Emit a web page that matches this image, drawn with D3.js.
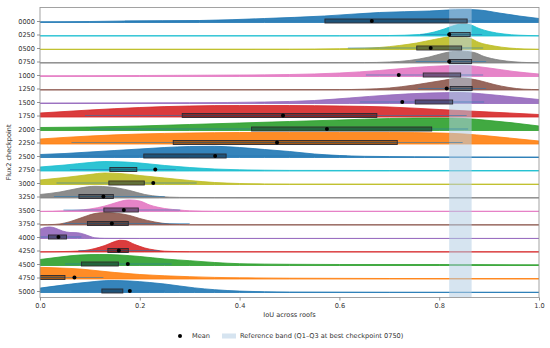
<!DOCTYPE html>
<html>
<head>
<meta charset="utf-8">
<script src="https://cdn.jsdelivr.net/npm/d3@7"></script>
<style>
  body { margin: 0; background: #fff; }
  text { font-family: "DejaVu Sans", sans-serif; }
</style>
</head>
<body>
<script>
// checkpoints, top to bottom
const checkpoints = ["0000", "0250", "0500", "0750", "1000", "1250", "1500", "1750", "2000", "2250",
                     "2500", "2750", "3000", "3250", "3500", "3750", "4000", "4250", "4500", "4750", "5000"];

// box stats of IoU per checkpoint
const whiskerLow  = [0.17, 0.762, 0.617, 0.753, 0.653, 0.758, 0.641, 0.09, 0.10, 0.063,
                     0.02, 0.06, 0.033, 0.028, 0.047, 0.047, 0.0, 0.077, 0.05, 0.0, 0.063];
const q1          = [0.571, 0.82, 0.755, 0.82, 0.768, 0.822, 0.752, 0.285, 0.424, 0.267,
                     0.208, 0.14, 0.138, 0.078, 0.128, 0.095, 0.017, 0.136, 0.083, 0.0, 0.124];
const q3          = [0.856, 0.862, 0.845, 0.865, 0.843, 0.866, 0.827, 0.675, 0.785, 0.716,
                     0.373, 0.194, 0.209, 0.147, 0.197, 0.177, 0.053, 0.177, 0.157, 0.05, 0.166];
const whiskerHigh = [1.0, 0.886, 0.888, 0.894, 0.888, 0.894, 0.89, 0.855, 0.858, 0.847,
                     0.615, 0.272, 0.314, 0.25, 0.281, 0.30, 0.083, 0.24, 0.264, 0.127, 0.25];
const means       = [0.665, 0.82, 0.783, 0.82, 0.719, 0.815, 0.726, 0.487, 0.575, 0.475,
                     0.351, 0.231, 0.227, 0.127, 0.168, 0.144, 0.037, 0.158, 0.176, 0.069, 0.18];

// KDE curves: [IoU, relative density]
const densityCurves = [
  [[0,0.8],[0.1,1],[0.17,1.5],[0.32,2],[0.45,4],[0.57,6.5],[0.68,10],[0.78,11.5],[0.85,13],[0.88,12.5],[0.92,9.5],[0.96,6.5],[1,4]],
  [[0,0.3],[0.6,0.3],[0.7,0.5],[0.76,1.5],[0.79,4],[0.81,7],[0.83,10.5],[0.845,12],[0.86,11.5],[0.88,7.5],[0.9,4.5],[0.93,2],[0.96,0.8],[1,0.3]],
  [[0,0.3],[0.5,0.4],[0.6,0.8],[0.65,1.3],[0.68,2],[0.72,4],[0.755,6.5],[0.79,10],[0.83,13],[0.86,11.5],[0.88,7],[0.91,3.5],[0.94,1.5],[0.97,0.6],[1,0.3]],
  [[0,0.3],[0.65,0.4],[0.7,1],[0.74,2.5],[0.78,6],[0.81,10],[0.84,12],[0.87,10.5],[0.89,6.5],[0.92,3],[0.95,1.2],[0.98,0.4],[1,0.3]],
  [[0,0.8],[0.2,1],[0.4,1.5],[0.5,2],[0.6,3.5],[0.68,6],[0.75,9],[0.8,10.5],[0.85,11],[0.9,8.5],[0.95,5],[1,2.5]],
  [[0,0.3],[0.6,0.4],[0.65,0.8],[0.7,2],[0.75,5],[0.8,9],[0.845,12],[0.88,9.5],[0.91,5.5],[0.94,2.5],[0.97,0.8],[1,0.4]],
  [[0,0.5],[0.3,0.8],[0.45,1.5],[0.55,3],[0.62,5.5],[0.7,8.5],[0.78,10.5],[0.84,11],[0.9,9],[0.95,6.5],[1,4]],
  [[0,4],[0.1,7],[0.2,9.5],[0.3,11],[0.4,11.5],[0.5,11.5],[0.6,11],[0.7,10],[0.8,7.5],[0.9,5],[1,2.5]],
  [[0,3],[0.1,3.5],[0.2,4.5],[0.3,6],[0.4,7.5],[0.5,9],[0.6,10.5],[0.7,12],[0.8,12.5],[0.85,12],[0.9,10],[0.95,7.5],[1,4.5]],
  [[0,5],[0.1,8],[0.2,10],[0.3,11],[0.4,11.5],[0.5,11.5],[0.6,11.5],[0.7,11.5],[0.8,11],[0.85,10],[0.9,8],[0.95,5.5],[1,3]],
  [[0,3],[0.05,4],[0.1,5.5],[0.15,7],[0.2,8.5],[0.25,10],[0.3,11],[0.35,11.2],[0.4,10],[0.45,8],[0.5,6],[0.55,3.5],[0.6,2],[0.65,1.2],[0.75,0.8],[0.9,0.6],[1,0.5]],
  [[0,4],[0.05,6],[0.1,8.5],[0.13,9.5],[0.17,9],[0.2,8],[0.25,5.5],[0.3,3.5],[0.35,2],[0.4,1.2],[0.45,0.8],[0.5,0.6],[0.7,0.5],[1,0.5]],
  [[0,4.5],[0.05,7],[0.1,10],[0.13,11.5],[0.16,11],[0.2,9],[0.25,6.5],[0.3,4],[0.35,2],[0.4,1],[0.45,0.6],[0.5,0.5],[1,0.4]],
  [[0,3.5],[0.04,6],[0.08,10],[0.11,11.7],[0.14,11],[0.18,7.5],[0.21,3.5],[0.24,1.5],[0.28,0.6],[0.35,0.4],[1,0.3]],
  [[0,0.2],[0.05,0.7],[0.1,2.5],[0.13,5.5],[0.15,8.5],[0.17,11.2],[0.18,11.6],[0.2,10.5],[0.22,6.5],[0.25,3],[0.28,1.5],[0.3,0.7],[0.35,0.3],[1,0.3]],
  [[0,0.2],[0.03,0.6],[0.05,2],[0.07,5],[0.09,8.5],[0.11,11.5],[0.13,12.4],[0.15,12],[0.18,9.5],[0.2,6.5],[0.23,3],[0.26,1],[0.3,0.3],[1,0.2]],
  [[0,9.3],[0.01,11],[0.02,11.5],[0.03,10.5],[0.045,7.5],[0.06,6],[0.075,5.8],[0.09,4],[0.1,2.2],[0.11,0.7],[0.13,0.2],[0.2,0.1],[1,0.1]],
  [[0,0.2],[0.06,0.6],[0.09,1.5],[0.11,3.5],[0.13,6.5],[0.15,10.5],[0.16,11.7],[0.17,11.5],[0.19,7.5],[0.21,4],[0.23,2],[0.25,0.8],[0.3,0.3],[1,0.2]],
  [[0,6],[0.04,8.5],[0.08,10.5],[0.12,11],[0.16,10.5],[0.2,9],[0.25,6.5],[0.3,4.8],[0.35,3],[0.4,1.8],[0.5,1.2],[0.6,1],[0.8,1],[1,0.7]],
  [[0,11.7],[0.04,11],[0.08,10],[0.12,8],[0.15,6.5],[0.2,4.5],[0.25,3.2],[0.3,2.3],[0.35,1.6],[0.4,1.2],[0.5,0.8],[0.7,0.5],[1,0.4]],
  [[0,4.4],[0.05,7.7],[0.1,10.5],[0.14,12],[0.18,11.5],[0.22,10],[0.25,8.5],[0.28,6.5],[0.31,4.6],[0.35,2.8],[0.4,1.4],[0.45,0.8],[0.5,0.5],[0.7,0.3],[1,0.3]]
];

const referenceBand = [0.82, 0.865];
const xTicks = [0, 0.2, 0.4, 0.6, 0.8, 1.0];

const width = 550, height = 348;
const plot = { left: 40, right: 539, top: 7.5, bottom: 297.5 };

const svg = d3.select("body")
              .append("svg")
              .attr("width", width)
              .attr("height", height);

const x = d3.scaleLinear().domain([0, 1]).range([plot.left, plot.right]);
const y = d3.scalePoint().domain(checkpoints).range([21, 291]);
const dens = d3.scaleLinear().domain([0, 12]).range([0, 12]);

// tab10 walked backwards: blue, cyan, olive, grey, pink, ...
const colorOf = (i) => d3.schemeCategory10[(10 - i % 10) % 10];

svg.append("defs").append("clipPath").attr("id", "clip")
   .append("rect")
   .attr("x", plot.left).attr("y", plot.top)
   .attr("width", plot.right - plot.left).attr("height", plot.bottom - plot.top);

const g = svg.append("g").attr("clip-path", "url(#clip)");

// ridges
checkpoints.forEach((c, i) => {
  const base = y(c) + 1.5;
  const area = d3.area()
                 .x(d => x(d[0]))
                 .y0(base)
                 .y1(d => base - dens(d[1]))
                 .curve(d3.curveMonotoneX);
  g.append("path")
   .datum(densityCurves[i])
   .attr("d", area)
   .attr("fill", colorOf(i))
   .attr("fill-opacity", 0.9)
   .attr("stroke", colorOf(i))
   .attr("stroke-width", 0.8);
});

// reference band
g.append("rect")
 .attr("x", x(referenceBand[0]))
 .attr("y", plot.top)
 .attr("width", x(referenceBand[1]) - x(referenceBand[0]))
 .attr("height", plot.bottom - plot.top)
 .attr("fill", "#b5cde3")
 .attr("fill-opacity", 0.55);

// whiskers
g.selectAll("line.whisker")
 .data(checkpoints)
 .enter()
 .append("line")
 .attr("class", "whisker")
 .attr("x1", (d, i) => x(whiskerLow[i]))
 .attr("x2", (d, i) => x(whiskerHigh[i]))
 .attr("y1", d => y(d))
 .attr("y2", d => y(d))
 .attr("stroke", "#1f77b4")
 .attr("stroke-opacity", 0.55)
 .attr("stroke-width", 1.2);

// boxes
g.selectAll("rect.box")
 .data(checkpoints)
 .enter()
 .append("rect")
 .attr("class", "box")
 .attr("x", (d, i) => x(q1[i]))
 .attr("width", (d, i) => x(q3[i]) - x(q1[i]))
 .attr("y", d => y(d) - 2)
 .attr("height", 4)
 .attr("fill", "#000")
 .attr("fill-opacity", 0.35)
 .attr("stroke", "#2a2a33")
 .attr("stroke-width", 0.9);

// means
g.selectAll("circle.mean")
 .data(checkpoints)
 .enter()
 .append("circle")
 .attr("class", "mean")
 .attr("cx", (d, i) => x(means[i]))
 .attr("cy", d => y(d))
 .attr("r", 2)
 .attr("fill", "#000");

// frame
svg.append("rect")
   .attr("x", plot.left).attr("y", plot.top)
   .attr("width", plot.right - plot.left).attr("height", plot.bottom - plot.top)
   .attr("fill", "none")
   .attr("stroke", "#999")
   .attr("stroke-width", 0.9);

// axes
const xAxis = svg.append("g")
   .attr("transform", `translate(0,${plot.bottom})`)
   .call(d3.axisBottom(x).tickValues(xTicks).tickFormat(d3.format(".1f")).tickSize(3).tickPadding(2.5));

const yAxis = svg.append("g")
   .attr("transform", `translate(${plot.left},0)`)
   .call(d3.axisLeft(y).tickSize(3).tickPadding(2));

[xAxis, yAxis].forEach(a => {
  a.select(".domain").remove();
  a.selectAll(".tick line").attr("stroke", "#777").attr("stroke-width", 0.8);
  a.selectAll(".tick text").attr("fill", "#333").attr("font-size", "6.6px")
   .attr("font-family", "DejaVu Sans, sans-serif");
});

svg.append("text")
   .attr("x", (plot.left + plot.right) / 2)
   .attr("y", 317)
   .attr("text-anchor", "middle")
   .attr("font-size", "6.6px")
   .attr("fill", "#333")
   .text("IoU across roofs");

svg.append("text")
   .attr("transform", `translate(11,${(plot.top + plot.bottom) / 2}) rotate(-90)`)
   .attr("text-anchor", "middle")
   .attr("font-size", "6.6px")
   .attr("fill", "#333")
   .text("Flux2 checkpoint");

// legend
const legend = svg.append("g").attr("transform", "translate(0,336)");
legend.append("circle").attr("cx", 180).attr("cy", 0).attr("r", 2).attr("fill", "#000");
legend.append("text").attr("x", 192).attr("y", 2.3).attr("font-size", "6.6px").attr("fill", "#333").text("Mean");
legend.append("rect").attr("x", 222).attr("y", -2.5).attr("width", 14).attr("height", 5)
      .attr("fill", "#b5cde3").attr("fill-opacity", 0.55);
legend.append("text").attr("x", 240).attr("y", 2.3).attr("font-size", "6.6px").attr("fill", "#333")
      .text("Reference band (Q1\u2013Q3 at best checkpoint 0750)");
</script>
</body>
</html>
